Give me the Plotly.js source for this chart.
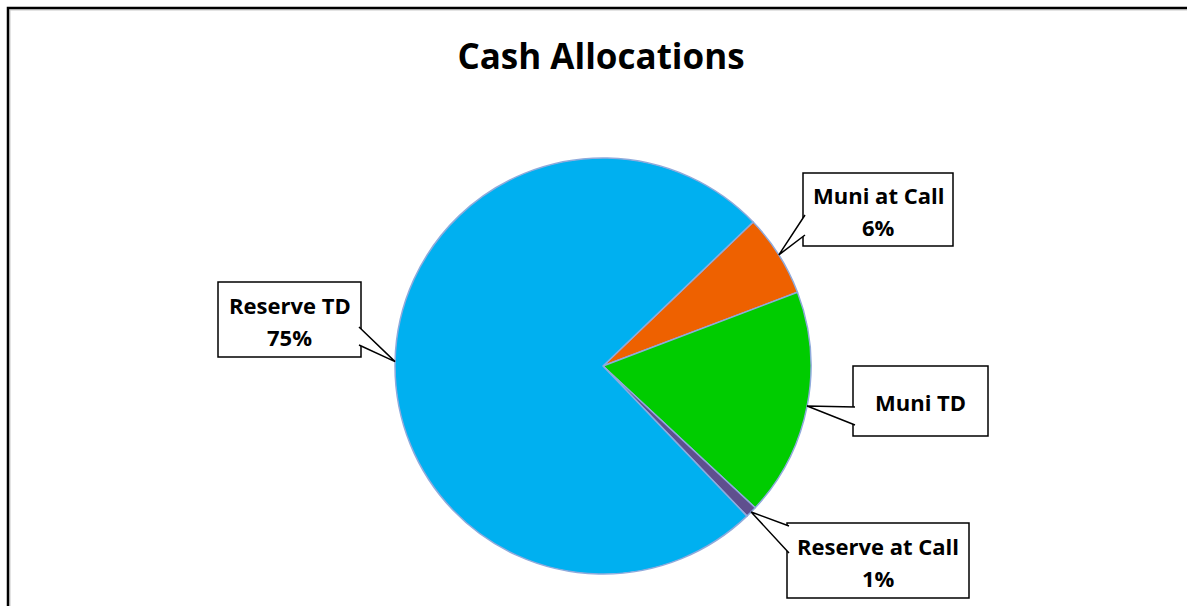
<!DOCTYPE html>
<html><head><meta charset="utf-8">
<script src="https://cdn.plot.ly/plotly-3.0.1.min.js"></script>
<style>html,body{margin:0;padding:0;background:#fff}#chart{width:1187px;height:606px}</style>
</head><body><div id="chart"></div>
<script>
// ---- data ----
const categories = ['Muni at Call', 'Muni TD', 'Reserve at Call', 'Reserve TD'];
const shares = [6.4, 17.7, 0.9, 75.0];
const showPercent = [true, false, true, true];
const colors = ['#EE6100', '#00CC00', '#5F4F8E', '#00B0F0'];
const chartTitle = 'Cash Allocations';

// ---- layout geometry (pixels) ----
const W = 1187, H = 606, CX = 603, CY = 366, R = 208, ROT = 46.2;
const px = x => x / W, py = y => 1 - y / H;
const FONT = '"Open Sans", Lato, sans-serif';

// callout boxes [x0,y0,x1,y1] and wedge base points on box edge
const callouts = [
  {box: [803, 173, 953, 246], base: [[805, 215], [805, 235]]},
  {box: [853, 366, 988, 436], base: [[855, 407], [855, 425]]},
  {box: [787, 523, 969, 598], base: [[789, 526], [789, 553]]},
  {box: [218, 282, 361, 357], base: [[359, 327], [359, 345]]}
];

const total = shares.reduce((a, b) => a + b, 0);
const shapes = [];
const annotations = [];

// chart area border (left and top edges visible)
shapes.push({type: 'path', xref: 'paper', yref: 'paper', layer: 'above',
  path: `M ${px(10)} ${py(606)} L ${px(10)} ${py(10)} L ${px(1187)} ${py(10)}`,
  line: {color: '#c8c8c8', width: 1}});
shapes.push({type: 'path', xref: 'paper', yref: 'paper', layer: 'above',
  path: `M ${px(8)} ${py(606)} L ${px(8)} ${py(8)} L ${px(1187)} ${py(8)}`,
  line: {color: '#000', width: 2.5}});

let start = ROT;
shares.forEach((v, i) => {
  const span = v / total * 360;
  const mid = (start + span / 2) * Math.PI / 180;
  start += span;
  const tip = [CX + R * Math.sin(mid), CY - R * Math.cos(mid)];
  const c = callouts[i];
  const [x0, y0, x1, y1] = c.box;
  shapes.push({type: 'rect', xref: 'paper', yref: 'paper', layer: 'above',
    x0: px(x0), x1: px(x1), y0: py(y1), y1: py(y0),
    fillcolor: '#fff', line: {color: '#000', width: 1.5}});
  shapes.push({type: 'path', xref: 'paper', yref: 'paper', layer: 'above',
    path: `M ${px(c.base[0][0])} ${py(c.base[0][1])} L ${px(tip[0])} ${py(tip[1])} L ${px(c.base[1][0])} ${py(c.base[1][1])}`,
    fillcolor: '#fff', line: {color: '#000', width: 1.5}});
  const cx = (x0 + x1) / 2, cy = (y0 + y1) / 2;
  const lines = showPercent[i] ? [categories[i], Math.round(v / total * 100) + '%'] : [categories[i]];
  const spacing = 32;
  lines.forEach((t, k) => {
    const yy = cy + (k - (lines.length - 1) / 2) * spacing + 1;
    annotations.push({xref: 'paper', yref: 'paper', x: px(cx), y: py(yy),
      xanchor: 'center', yanchor: 'middle', showarrow: false, text: t,
      font: {family: FONT, size: 22, color: '#000', weight: 700}});
  });
});

const trace = {
  type: 'pie', labels: categories, values: shares, sort: false,
  direction: 'clockwise', rotation: ROT,
  marker: {colors: colors, line: {color: '#8FAADC', width: 1.5}},
  textinfo: 'none', hoverinfo: 'none', showlegend: false,
  domain: {x: [px(CX - R), px(CX + R)], y: [py(CY + R), py(CY - R)]}
};

const layout = {
  width: W, height: H, margin: {l: 0, r: 0, t: 0, b: 0},
  paper_bgcolor: '#fff', plot_bgcolor: '#fff', showlegend: false,
  title: {text: chartTitle, xref: 'paper', yref: 'paper', x: px(601), xanchor: 'center',
    y: py(57), yanchor: 'middle', font: {family: FONT, size: 35, color: '#000', weight: 700}},
  shapes: shapes, annotations: annotations
};

Plotly.newPlot('chart', [trace], layout, {displayModeBar: false, staticPlot: true});
</script>
</body></html>
